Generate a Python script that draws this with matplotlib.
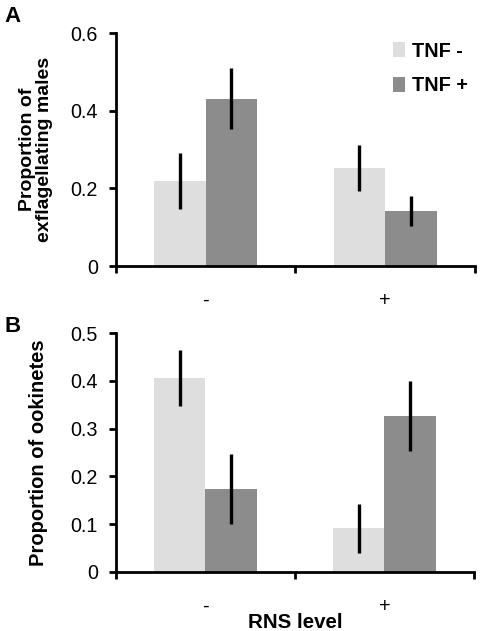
import matplotlib
matplotlib.use("Agg")
import matplotlib.pyplot as plt
import numpy as np

plt.rcParams['font.family'] = ['Liberation Sans', 'DejaVu Sans']

categories = ["-", "+"]
series_names = ["TNF -", "TNF +"]
colors = ["#DEDEDE", "#8C8C8C"]

# Panel A: proportion of exflagellating males
a_vals = {"TNF -": [0.219, 0.252], "TNF +": [0.431, 0.142]}
a_err = {"TNF -": [0.072, 0.060], "TNF +": [0.079, 0.038]}

# Panel B: proportion of ookinetes
b_vals = {"TNF -": [0.406, 0.091], "TNF +": [0.173, 0.327]}
b_err = {"TNF -": [0.058, 0.051], "TNF +": [0.073, 0.073]}

fig = plt.figure(figsize=(4.84, 6.31), dpi=100)

def draw(ax, vals, errs, ymax, yticks, yticklabels, ylabel, ylfs, ylx):
    x = np.arange(len(categories))
    w = 0.287
    for i, name in enumerate(series_names):
        off = (i - 0.5) * w
        ax.bar(x + off, vals[name], width=w, color=colors[i], label=name,
               zorder=2, linewidth=0)
        ax.errorbar(x + off, vals[name], yerr=errs[name], fmt='none',
                    ecolor='black', elinewidth=2.4, capsize=0, zorder=3)
    ax.set_xlim(-0.5, len(categories) - 0.5)
    ax.set_ylim(0, ymax)
    ax.set_yticks(yticks)
    ax.set_yticklabels(yticklabels, fontsize=14.2)
    ax.set_xticks(np.arange(-0.5, len(categories)), minor=False)
    ax.set_xticklabels([])
    ax.set_xticks(x, minor=True)
    ax.set_xticklabels(categories, minor=True, fontsize=14.2)
    ax.tick_params(axis='x', which='minor', length=0, pad=18)
    ax.tick_params(axis='x', which='major', length=5, width=2, direction='out')
    ax.tick_params(axis='y', length=5, width=2, direction='out', pad=8)
    for s in ['top', 'right']:
        ax.spines[s].set_visible(False)
    for s in ['left', 'bottom']:
        ax.spines[s].set_linewidth(2)
    ax.set_ylabel(ylabel, fontsize=ylfs, fontweight='bold', linespacing=1.05)
    ax.yaxis.set_label_coords(ylx, 0.5)

axA = fig.add_axes([0.2397, 0.5784, 0.7413, 0.3693])
draw(axA, a_vals, a_err, 0.6, [0, 0.2, 0.4, 0.6], ["0", "0.2", "0.4", "0.6"],
     "Proportion of\nexflagellating males", 14, -0.175)
leg = axA.legend(loc='upper right', bbox_to_anchor=(1.03, 1.04), frameon=False,
                 prop={'weight': 'bold', 'size': 14.3}, handlelength=0.6,
                 handleheight=0.75, handletextpad=0.35, labelspacing=0.8)

axB = fig.add_axes([0.2397, 0.094, 0.7393, 0.3778])
draw(axB, b_vals, b_err, 0.5, [0, 0.1, 0.2, 0.3, 0.4, 0.5],
     ["0", "0.1", "0.2", "0.3", "0.4", "0.5"], "Proportion of ookinetes",
     14.5, -0.19)
axB.set_xlabel("RNS level", fontsize=14.8, fontweight='bold', labelpad=-2)

fig.text(0.010, 0.965, "A", fontsize=16, fontweight='bold')
fig.text(0.010, 0.474, "B", fontsize=16, fontweight='bold')

fig.savefig("out.png", dpi=100)
